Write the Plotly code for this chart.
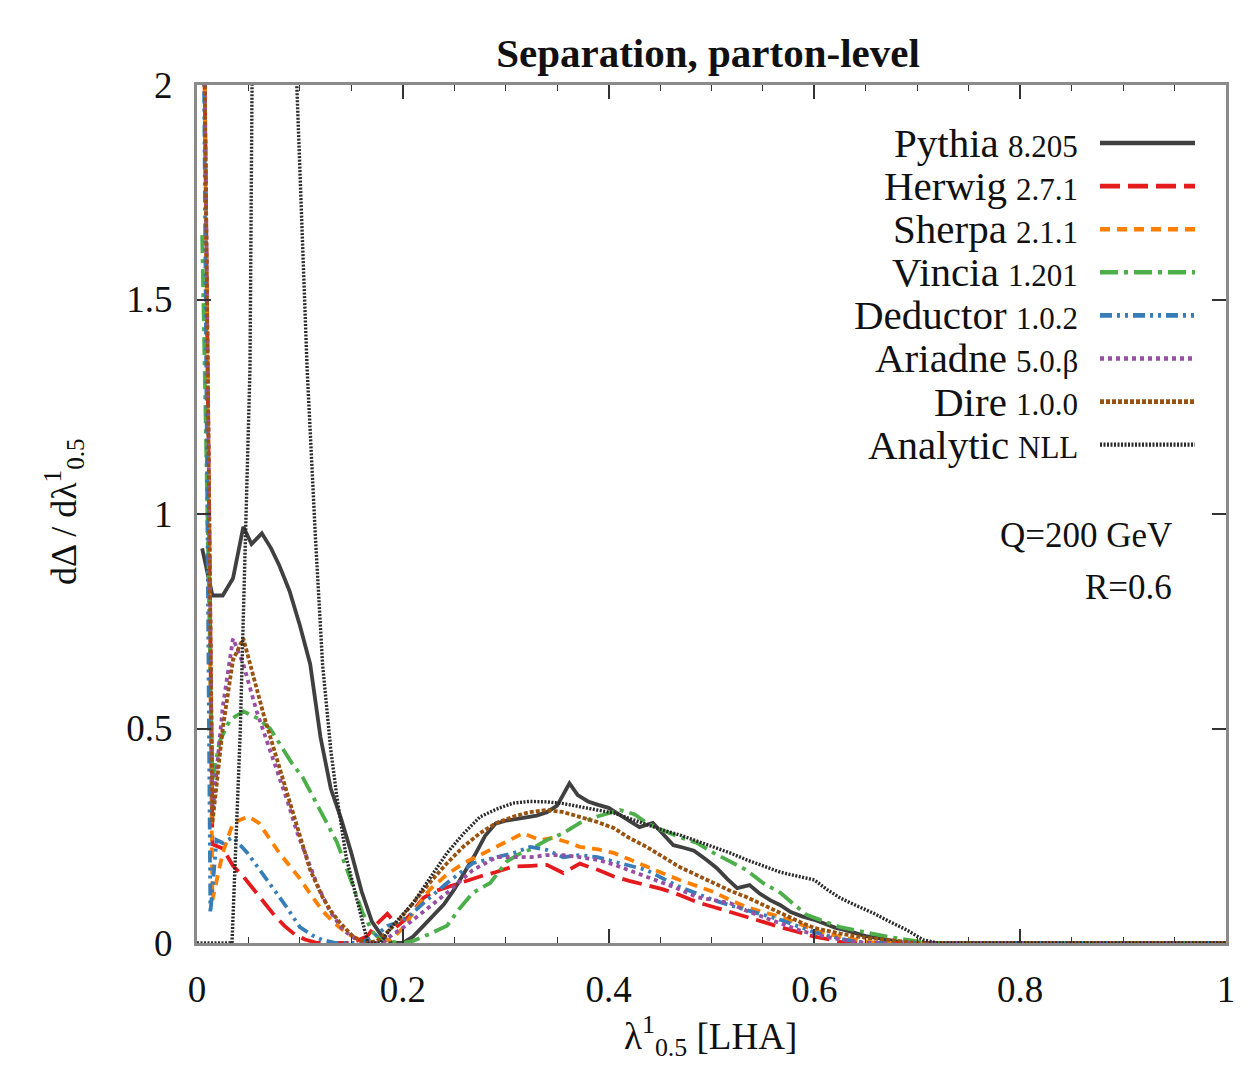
import plotly.graph_objects as go

# ---------------- data ----------------
pythia_x = [0.005, 0.015, 0.025, 0.035, 0.045, 0.053, 0.063, 0.072, 0.08, 0.09, 0.1, 0.11, 0.12, 0.13, 0.14, 0.15,
            0.16, 0.17, 0.18, 0.19, 0.2, 0.21, 0.22, 0.23, 0.24, 0.25, 0.26, 0.27, 0.28, 0.29, 0.3, 0.31, 0.32,
            0.33, 0.34, 0.35, 0.362, 0.37, 0.38, 0.39, 0.4, 0.41, 0.42, 0.43, 0.443, 0.453, 0.463, 0.473, 0.483,
            0.495, 0.505, 0.515, 0.525, 0.537, 0.547, 0.557, 0.567, 0.577, 0.588, 0.6, 0.61, 0.62, 0.63, 0.64,
            0.65, 0.66, 0.67, 0.68, 0.69, 1.0]
pythia_y = [0.92, 0.81, 0.81, 0.85, 0.97, 0.93, 0.955, 0.92, 0.88, 0.82, 0.74, 0.65, 0.48, 0.36, 0.29, 0.21,
            0.12, 0.05, 0.015, 0.0, 0.0, 0.015, 0.04, 0.065, 0.09, 0.125, 0.165, 0.205, 0.25, 0.278, 0.285,
            0.29, 0.293, 0.297, 0.305, 0.32, 0.372, 0.345, 0.33, 0.322, 0.315, 0.3, 0.285, 0.27, 0.28, 0.255,
            0.228, 0.222, 0.215, 0.194, 0.175, 0.15, 0.128, 0.135, 0.115, 0.1, 0.088, 0.072, 0.062, 0.054, 0.045,
            0.036, 0.03, 0.022, 0.016, 0.012, 0.008, 0.004, 0.0, 0.0]

herwig_x = [0.005, 0.015, 0.025, 0.035, 0.045, 0.055, 0.065, 0.075, 0.085, 0.095, 0.105, 0.117, 0.13, 0.15,
            0.165, 0.175, 0.185, 0.195, 0.205, 0.22, 0.23, 0.243, 0.26, 0.275, 0.29, 0.307, 0.325, 0.34, 0.356,
            0.372, 0.39, 0.405, 0.42, 0.437, 0.453, 0.469, 0.486, 0.502, 0.518, 0.534, 0.55, 0.567, 0.585, 0.6,
            0.615, 0.63, 1.0]
herwig_y = [2.6, 0.23, 0.22, 0.18, 0.155, 0.125, 0.095, 0.065, 0.04, 0.02, 0.008, 0.0, 0.0, 0.0,
            0.015, 0.045, 0.068, 0.04, 0.06, 0.105, 0.12, 0.13, 0.145, 0.155, 0.165, 0.178, 0.18, 0.182, 0.163,
            0.185, 0.17, 0.155, 0.145, 0.135, 0.125, 0.112, 0.095, 0.084, 0.072, 0.062, 0.05, 0.037, 0.025, 0.015,
            0.008, 0.0, 0.0]

sherpa_x = [0.005, 0.015, 0.025, 0.035, 0.05, 0.06, 0.07, 0.08, 0.09, 0.1, 0.11, 0.122, 0.134, 0.146, 0.16,
            0.175, 0.19, 0.2, 0.21, 0.226, 0.243, 0.259, 0.275, 0.291, 0.305, 0.317, 0.333, 0.346, 0.36, 0.372,
            0.39, 0.405, 0.42, 0.437, 0.453, 0.469, 0.486, 0.502, 0.518, 0.534, 0.55, 0.567, 0.585, 0.6, 0.625,
            0.66, 1.0]
sherpa_y = [2.6, 0.1, 0.21, 0.28, 0.295, 0.28, 0.245, 0.21, 0.18, 0.15, 0.115, 0.075, 0.045, 0.022, 0.005,
            0.0, 0.01, 0.035, 0.07, 0.124, 0.16, 0.186, 0.205, 0.224, 0.24, 0.256, 0.24, 0.245, 0.235, 0.224,
            0.218, 0.21, 0.195, 0.177, 0.162, 0.147, 0.132, 0.119, 0.1, 0.084, 0.072, 0.061, 0.045, 0.03, 0.014,
            0.0, 0.0]

vincia_x = [0.005, 0.015, 0.022, 0.032, 0.045, 0.058, 0.071, 0.081, 0.092, 0.103, 0.113, 0.122, 0.136, 0.149,
            0.161, 0.171, 0.18, 0.2, 0.21, 0.225, 0.243, 0.255, 0.268, 0.285, 0.301, 0.315, 0.324, 0.34, 0.356,
            0.372, 0.389, 0.411, 0.425, 0.437, 0.45, 0.469, 0.486, 0.502, 0.518, 0.534, 0.55, 0.567, 0.58, 0.593,
            0.61, 0.625, 0.65, 0.673, 0.71, 1.0]
vincia_y = [1.65, 0.38, 0.47, 0.52, 0.54, 0.525, 0.5, 0.46, 0.42, 0.385, 0.34, 0.295, 0.235, 0.15,
            0.07, 0.025, 0.005, 0.0, 0.005, 0.02, 0.04, 0.08, 0.117, 0.14, 0.19, 0.21, 0.218, 0.24, 0.256,
            0.28, 0.295, 0.31, 0.3, 0.28, 0.265, 0.247, 0.233, 0.21, 0.19, 0.17, 0.14, 0.117, 0.09, 0.065,
            0.05, 0.037, 0.025, 0.014, 0.0, 0.0]

deductor_x = [0.005, 0.013, 0.019, 0.025, 0.035, 0.049, 0.068, 0.087, 0.1, 0.112, 0.122, 0.135, 0.16, 0.175,
              0.185, 0.194, 0.205, 0.22, 0.243, 0.268, 0.291, 0.308, 0.324, 0.34, 0.356, 0.372, 0.389, 0.411,
              0.437, 0.453, 0.469, 0.486, 0.502, 0.518, 0.534, 0.55, 0.567, 0.585, 0.6, 0.625, 0.65, 1.0]
deductor_y = [2.6, 0.07, 0.24, 0.233, 0.247, 0.21, 0.147, 0.084, 0.037, 0.018, 0.007, 0.0, 0.0, 0.02,
              0.04, 0.047, 0.06, 0.093, 0.14, 0.186, 0.2, 0.21, 0.224, 0.217, 0.2, 0.205, 0.2, 0.186,
              0.17, 0.15, 0.131, 0.115, 0.1, 0.088, 0.077, 0.065, 0.054, 0.038, 0.025, 0.01, 0.0, 0.0]

ariadne_x = [0.005, 0.015, 0.025, 0.035, 0.045, 0.058, 0.068, 0.078, 0.088, 0.097, 0.107, 0.117, 0.129, 0.142,
             0.155, 0.165, 0.18, 0.19, 0.2, 0.21, 0.226, 0.243, 0.268, 0.291, 0.308, 0.324, 0.34, 0.356, 0.372,
             0.389, 0.405, 0.42, 0.437, 0.453, 0.469, 0.486, 0.502, 0.518, 0.534, 0.55, 0.567, 0.585, 0.6, 0.625,
             0.65, 1.0]
ariadne_y = [2.6, 0.3, 0.55, 0.71, 0.65, 0.54, 0.47, 0.4, 0.33, 0.26, 0.2, 0.135, 0.075, 0.03,
             0.008, 0.0, 0.0, 0.02, 0.035, 0.054, 0.085, 0.117, 0.17, 0.2, 0.2, 0.2, 0.205, 0.205, 0.2,
             0.194, 0.183, 0.17, 0.155, 0.14, 0.125, 0.107, 0.1, 0.093, 0.075, 0.061, 0.045, 0.03, 0.02, 0.008,
             0.0, 0.0]

dire_x = [0.005, 0.015, 0.025, 0.035, 0.045, 0.055, 0.065, 0.075, 0.085, 0.1, 0.11, 0.122, 0.13, 0.139, 0.152,
          0.165, 0.175, 0.184, 0.195, 0.21, 0.226, 0.243, 0.259, 0.275, 0.291, 0.307, 0.323, 0.34, 0.356, 0.372,
          0.389, 0.405, 0.42, 0.437, 0.453, 0.469, 0.486, 0.502, 0.518, 0.534, 0.55, 0.567, 0.585, 0.6, 0.625,
          0.65, 0.673, 0.7, 1.0]
dire_y = [2.6, 0.28, 0.5, 0.66, 0.71, 0.62, 0.53, 0.45, 0.37, 0.25, 0.17, 0.107, 0.075, 0.047, 0.014,
          0.0, 0.005, 0.023, 0.05, 0.093, 0.14, 0.186, 0.225, 0.256, 0.28, 0.294, 0.305, 0.31, 0.305, 0.294,
          0.282, 0.268, 0.245, 0.224, 0.2, 0.177, 0.158, 0.14, 0.122, 0.107, 0.088, 0.07, 0.05, 0.035, 0.022,
          0.012, 0.007, 0.0, 0.0]

nll_x = [0.0, 0.034, 0.042, 0.0515, 0.0535, 0.06, 0.07, 0.08, 0.09, 0.097, 0.107, 0.115, 0.122, 0.13, 0.136,
         0.145, 0.158, 0.166, 0.178, 0.19, 0.21, 0.226, 0.243, 0.259, 0.275, 0.291, 0.307, 0.323, 0.34, 0.356,
         0.372, 0.389, 0.405, 0.42, 0.437, 0.453, 0.469, 0.486, 0.502, 0.518, 0.534, 0.55, 0.567, 0.585, 0.6,
         0.612, 0.625, 0.64, 0.657, 0.673, 0.69, 0.706, 0.72, 1.0]
nll_y = [0.0, 0.0, 0.49, 1.34, 2.0, 2.6, 2.8, 2.8, 2.55, 2.0, 1.34, 0.95, 0.65, 0.45, 0.34,
         0.2, 0.077, 0.0, 0.0, 0.04, 0.093, 0.15, 0.21, 0.255, 0.294, 0.312, 0.326, 0.33, 0.329, 0.325,
         0.317, 0.31, 0.303, 0.29, 0.275, 0.263, 0.252, 0.238, 0.224, 0.21, 0.194, 0.18, 0.165, 0.155, 0.147,
         0.125, 0.105, 0.088, 0.07, 0.05, 0.03, 0.007, 0.0, 0.0]

names = ["Pythia", "Herwig", "Sherpa", "Vincia", "Deductor", "Ariadne", "Dire", "Analytic"]
versions = ["8.205", "2.7.1", "2.1.1", "1.201", "1.0.2", "5.0.β", "1.0.0", "NLL"]

x_ticks = [0, 0.2, 0.4, 0.6, 0.8, 1]
x_tick_text = ["0", "0.2", "0.4", "0.6", "0.8", "1"]
y_ticks = [0, 0.5, 1, 1.5, 2]
y_tick_text = ["0", "0.5", "1", "1.5", "2"]

# ---------------- styles ----------------
series = [
    (pythia_x, pythia_y, "#404040", "solid", 3.8),
    (herwig_x, herwig_y, "#e41a1c", "20px,8px", 3.8),
    (sherpa_x, sherpa_y, "#ff7f00", "10px,7px", 3.8),
    (vincia_x, vincia_y, "#4daf4a", "18px,6px,4px,6px", 3.8),
    (deductor_x, deductor_y, "#377eb8", "12px,5px,3px,5px,3px,5px", 3.8),
    (ariadne_x, ariadne_y, "#984ea3", "4px,4px", 3.8),
    (dire_x, dire_y, "#9a5210", "4px,2px", 3.8),
    (nll_x, nll_y, "#2a2a2a", "2px,1.5px", 3.4),
]

FONT = "Liberation Serif"
TXT = "#111111"
fig = go.Figure()
for (xs, ys, col, dash, w), nm, ver in zip(series, names, versions):
    fig.add_trace(go.Scatter(x=xs, y=ys, mode="lines", name=f"{nm} {ver}",
                             line=dict(color=col, dash=dash, width=w), showlegend=False))

# The page puts the figure 8 px in from the top-left corner.
OFF = 8
W, H = 1250 - OFF, 1090 - OFF
# plot area in page pixels: x 197..1226, y 85..943
L, T = 197 - OFF, 85 - OFF
R, B = W - (1226 - OFF), H - (943 - OFF)
pw, ph = W - L - R, H - T - B


def px(xp):  # page x pixel -> paper coordinate
    return (xp - OFF - L) / pw


def py(yp):  # page y pixel -> paper coordinate
    return (H - B - (yp - OFF)) / ph


# approximate advance widths (em) of Liberation Serif glyphs used in the version labels
CW = {"0": 0.5, "1": 0.5, "2": 0.5, "5": 0.5, "7": 0.5, "8": 0.5, ".": 0.25, "β": 0.5,
      "N": 0.722, "L": 0.611}
NAME_SIZE, VER_SIZE = 41, 31

shapes = []
annotations = []
row0 = 143
row_step = 43.1
for i, ((xs, ys, col, dash, w), nm, ver) in enumerate(zip(series, names, versions)):
    yy = py(row0 + i * row_step)
    shapes.append(dict(type="line", xref="paper", yref="paper", x0=px(1100), x1=px(1195), y0=yy, y1=yy,
                       line=dict(color=col, dash=dash, width=w + 0.8)))
    ver_w = sum(CW.get(c, 0.5) for c in ver) * VER_SIZE
    annotations.append(dict(xref="paper", yref="paper", x=px(1080), y=yy, xanchor="right", yanchor="middle",
                            showarrow=False, text=ver, yshift=-3,
                            font=dict(family=FONT, size=VER_SIZE, color=TXT)))
    annotations.append(dict(xref="paper", yref="paper", x=px(1080), y=yy, xanchor="right", yanchor="middle",
                            showarrow=False, text=nm, xshift=-(ver_w + 9),
                            font=dict(family=FONT, size=NAME_SIZE, color=TXT)))

annotations += [
    dict(xref="paper", yref="paper", x=px(1174), y=py(535), xanchor="right", yanchor="middle", showarrow=False,
         text="Q=200 GeV", font=dict(family=FONT, size=35, color=TXT)),
    dict(xref="paper", yref="paper", x=px(1174), y=py(587), xanchor="right", yanchor="middle", showarrow=False,
         text="R=0.6", font=dict(family=FONT, size=35, color=TXT)),
    dict(xref="paper", yref="paper", x=px(64), y=py(512), xanchor="center", yanchor="middle", showarrow=False,
         textangle=-90, text="dΔ / dλ<sup>1</sup><sub>0.5</sub>", font=dict(family=FONT, size=36, color=TXT)),
    dict(xref="paper", yref="paper", x=px(710), y=py(1036), xanchor="center", yanchor="middle", showarrow=False,
         text="λ<sup>1</sup><sub>0.5</sub> [LHA]", font=dict(family=FONT, size=37, color=TXT)),
]

axis_common = dict(showline=True, linecolor="#8a8a8a", linewidth=3, mirror="ticks", ticks="inside",
                   tickcolor="#333333", tickwidth=1.5, ticklen=14, showgrid=False, zeroline=False,
                   tickfont=dict(family=FONT, size=37, color=TXT))

fig.update_layout(
    width=W, height=H,
    margin=dict(l=L, r=R, t=T, b=B, autoexpand=False),
    paper_bgcolor="white", plot_bgcolor="white",
    title=dict(text="<b>Separation, parton-level</b>", x=(708 - OFF) / W, xanchor="center",
               y=1 - (53 - OFF) / H, yanchor="middle", font=dict(family=FONT, size=41, color=TXT)),
    xaxis=dict(range=[0, 1], tickvals=x_ticks, ticktext=x_tick_text, ticklabelstandoff=12,
               minor=dict(ticks="inside", dtick=0.05, ticklen=6, tickcolor="#333333", tickwidth=1.2),
               **axis_common),
    yaxis=dict(range=[0, 2], tickvals=y_ticks, ticktext=y_tick_text, ticklabelstandoff=14, **axis_common),
    shapes=shapes, annotations=annotations, showlegend=False,
)

fig.write_html("out.html")
